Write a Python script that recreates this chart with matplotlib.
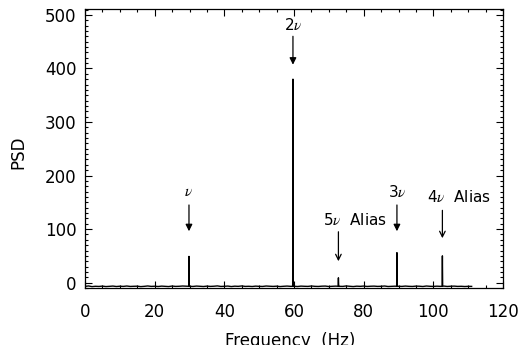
import matplotlib
matplotlib.use("Agg")
import matplotlib.pyplot as plt
from matplotlib.ticker import MultipleLocator

plt.rcParams['font.family'] = ['DejaVu Sans']
plt.rcParams['mathtext.fontset'] = 'stix'

# ---- data ----
noise_freq = list(range(0, 112))
noise_psd = [-7.0, -6.2, -7.4, -6.8, -7.1, -6.5, -7.3, -6.9, -6.4, -7.2,
             -6.7, -7.0, -6.3, -7.1, -6.8, -6.6, -7.4, -6.9, -6.2, -7.0,
             -6.7, -7.2, -6.5, -6.9, -7.3, -6.4, -7.0, -6.8, -6.3, -6.6,
             -6.9, -7.1, -6.4, -6.8, -7.2, -6.5, -7.0, -6.7, -6.1, -7.1,
             -6.8, -6.4, -7.3, -6.6, -6.9, -6.2, -7.0, -6.8, -7.2, -6.5,
             -6.9, -7.1, -6.3, -6.7, -7.0, -6.6, -7.3, -6.8, -6.4, -6.9,
             -6.7, -7.2, -6.5, -6.8, -7.0, -6.3, -6.9, -7.1, -6.6, -6.4,
             -7.2, -6.8, -6.5, -6.9, -7.0, -6.2, -6.8, -7.3, -6.6, -6.9,
             -6.4, -7.1, -6.7, -6.5, -7.0, -6.8, -6.3, -7.2, -6.9, -6.6,
             -6.8, -7.0, -6.4, -6.9, -7.1, -6.5, -6.7, -7.2, -6.3, -6.8,
             -7.0, -6.6, -6.9, -6.4, -7.1, -6.7, -6.5, -7.0, -6.8, -7.2,
             -6.9, -7.0]
peak_freq = [29.85, 59.7, 72.75, 89.55, 102.6]
peak_psd = [49, 380, 9, 56, 50]

labels = [r'$\nu$', r'2$\nu$', r'5$\nu$  Alias', r'3$\nu$', r'4$\nu$  Alias']
label_y = [170, 481, 117, 170, 159]
arrow_top = [145, 460, 95, 145, 135]
arrow_tip = [96, 407, 40, 96, 83]
label_x = [29.85, 59.7, 77.5, 89.55, 107.3]
filled = [True, True, False, True, False]

# ---- build spectrum ----
pts = list(zip(noise_freq, noise_psd))
for f, p in zip(peak_freq, peak_psd):
    pts += [(f - 0.08, -6.8), (f, p), (f + 0.08, -6.8)]
pts.sort()
freq = [a for a, b in pts]
psd = [b for a, b in pts]

fig = plt.figure(figsize=(5.23, 3.45), dpi=100)
ax = fig.add_axes([85/523, 57/345, 418/523, 279/345])
ax.plot(freq, psd, color='black', lw=1.0)

for lab, lx, ly, at, atip, fl, px in zip(labels, label_x, label_y,
                                          arrow_top, arrow_tip, filled, peak_freq):
    style = '-|>' if fl else '->'
    ax.annotate('', xy=(px, atip), xytext=(px, at),
                arrowprops=dict(arrowstyle=style, color='black', lw=0.9,
                                mutation_scale=10, shrinkA=0, shrinkB=0))
    ax.text(lx, ly, lab, ha='center', va='center', fontsize=11)

ax.set_xlim(0, 120)
ax.set_ylim(-10, 511)
ax.xaxis.set_major_locator(MultipleLocator(20))
ax.xaxis.set_minor_locator(MultipleLocator(5))
ax.yaxis.set_major_locator(MultipleLocator(100))
ax.yaxis.set_minor_locator(MultipleLocator(10))
ax.tick_params(which='both', direction='in', top=True, right=True, width=0.8)
ax.tick_params(which='major', length=5, labelsize=12)
ax.tick_params(axis='x', which='major', pad=11)
ax.tick_params(axis='y', which='major', pad=6)
ax.tick_params(which='minor', length=2.5)
for s in ax.spines.values():
    s.set_linewidth(0.9)

fig.text(18/523, 1 - 152/345, 'PSD', rotation=90, ha='center', va='center', fontsize=12)
fig.text(290/523, 1 - 341/345, 'Frequency  (Hz)', ha='center', va='center', fontsize=12)

fig.savefig('out.png', dpi=100)
